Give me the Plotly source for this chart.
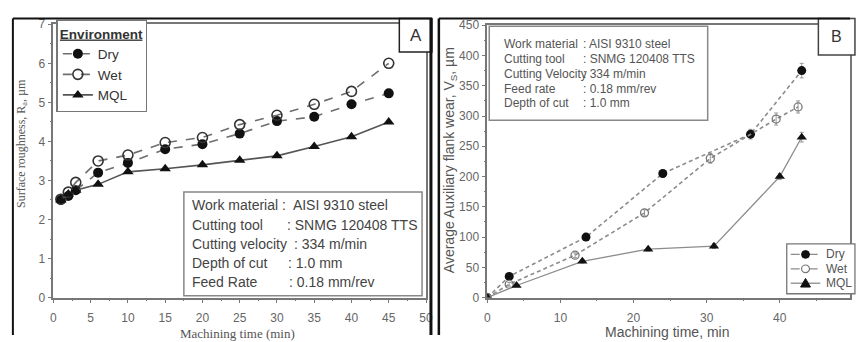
import plotly.graph_objects as go

W, H = 857, 342

# ---------------- data ----------------
time_a = [1, 2, 3, 6, 10, 15, 20, 25, 30, 35, 40, 45]
ra_dry = [2.5, 2.6, 2.75, 3.2, 3.45, 3.8, 3.93, 4.2, 4.52, 4.63, 4.95, 5.23]
ra_wet = [2.52, 2.7, 2.95, 3.5, 3.65, 3.97, 4.1, 4.43, 4.67, 4.95, 5.28, 6.0]
ra_mql = [2.5, 2.65, 2.75, 2.9, 3.22, 3.3, 3.4, 3.52, 3.63, 3.87, 4.12, 4.5]

time_b_dry = [0, 3, 13.5, 24, 36, 43]
vs_dry = [0, 35, 100, 205, 270, 375]
err_dry = [0, 3, 4, 6, 8, 12]
time_b_wet = [0, 3, 12, 21.5, 30.5, 39.5, 42.5]
vs_wet = [0, 22, 70, 140, 230, 295, 315]
err_wet = [0, 3, 4, 5, 8, 10, 10]
time_b_mql = [0, 4, 13, 22, 31, 40, 43]
vs_mql = [0, 20, 60, 80, 85, 200, 265]
err_mql = [0, 2, 3, 3, 4, 5, 8]

series_names = ["Dry", "Wet", "MQL"]

info_a_labels = ["Work material", "Cutting tool", "Cutting velocity", "Depth of cut", "Feed Rate"]
info_a_values = [":  AISI 9310 steel", ": SNMG 120408 TTS", ": 334 m/min", ": 1.0 mm", ": 0.18 mm/rev"]
info_b_labels = ["Work material", "Cutting tool", "Cutting Velocity", "Feed rate", "Depth of cut"]
info_b_values = [": AISI 9310 steel", ": SNMG 120408 TTS", ": 334 m/min", ": 0.18 mm/rev", ": 1.0 mm"]


def px(x):
    return x / W


def py(y):
    return 1 - y / H


fig = go.Figure()

# ---------------- panel A ----------------
fig.add_trace(go.Scatter(x=time_a, y=ra_dry, name=series_names[0], mode="lines+markers",
                         line=dict(color="#6e6e6e", width=1.6, dash="dash"),
                         marker=dict(symbol="circle", size=10, color="#111"),
                         xaxis="x", yaxis="y", legend="legend"))
fig.add_trace(go.Scatter(x=time_a, y=ra_wet, name=series_names[1], mode="lines+markers",
                         line=dict(color="#6e6e6e", width=1.6, dash="dash"),
                         marker=dict(symbol="circle-open", size=10, color="#333",
                                     line=dict(width=1.6)),
                         xaxis="x", yaxis="y", legend="legend"))
fig.add_trace(go.Scatter(x=time_a, y=ra_mql, name=series_names[2], mode="lines+markers",
                         line=dict(color="#555", width=1.6),
                         marker=dict(symbol="triangle-up", size=10, color="#111"),
                         xaxis="x", yaxis="y", legend="legend"))

# ---------------- panel B ----------------
B_DASH = "4px,3px"
fig.add_trace(go.Scatter(x=time_b_dry, y=vs_dry, name=series_names[0], mode="lines+markers",
                         line=dict(color="#8c8c8c", width=1.6, dash=B_DASH),
                         marker=dict(symbol="circle", size=9, color="#111"),
                         error_y=dict(type="data", array=err_dry, color="#999", thickness=1, width=2),
                         xaxis="x2", yaxis="y2", showlegend=False))
fig.add_trace(go.Scatter(x=time_b_wet, y=vs_wet, name=series_names[1], mode="lines+markers",
                         line=dict(color="#8c8c8c", width=1.6, dash=B_DASH),
                         marker=dict(symbol="circle-open", size=8, color="#777",
                                     line=dict(width=1.3)),
                         error_y=dict(type="data", array=err_wet, color="#999", thickness=1, width=2),
                         xaxis="x2", yaxis="y2", showlegend=False))
fig.add_trace(go.Scatter(x=time_b_mql, y=vs_mql, name=series_names[2], mode="lines+markers",
                         line=dict(color="#8c8c8c", width=1.3),
                         marker=dict(symbol="triangle-up", size=9, color="#111"),
                         error_y=dict(type="data", array=err_mql, color="#999", thickness=1, width=2),
                         xaxis="x2", yaxis="y2", showlegend=False))

axis_common = dict(showgrid=False, zeroline=False, showline=True, linecolor="#777",
                   linewidth=1.5, mirror=True, ticks="outside", ticklen=4,
                   tickcolor="#777", tickfont=dict(family="Arial, Liberation Sans", size=12, color="#666"))

fig.update_layout(
    width=W, height=H, margin=dict(l=0, r=0, t=0, b=0),
    paper_bgcolor="white", plot_bgcolor="white",
    xaxis=dict(domain=[px(51), px(428)], range=[0, 50], dtick=5, ticklabelstandoff=4,
               minor=dict(dtick=2.5, ticks="outside", ticklen=2, tickcolor="#777"),
               anchor="y", **axis_common),
    yaxis=dict(domain=[py(303), py(18)], range=[0, 7], dtick=1,
               minor=dict(dtick=0.5, ticks="outside", ticklen=2, tickcolor="#777"),
               anchor="x", **axis_common),
    xaxis2=dict(domain=[px(490), 1.0], range=[0, 49.6], dtick=10, ticklabelstandoff=4,
                minor=dict(dtick=5, ticks="outside", ticklen=2, tickcolor="#777"),
                anchor="y2", **axis_common),
    yaxis2=dict(domain=[py(303), py(19)], range=[0, 450], dtick=50,
                minor=dict(dtick=25, ticks="outside", ticklen=2, tickcolor="#777"),
                anchor="x2", **axis_common),
    legend=dict(x=px(54), y=py(13), xanchor="left", yanchor="top",
                bgcolor="white", bordercolor="#777", borderwidth=1.5,
                title=dict(text="<b><u>Environment</u></b>",
                           font=dict(family="Arial, Liberation Sans", size=13.5, color="#333")),
                font=dict(family="Arial, Liberation Sans", size=13.5, color="#333"),
                itemwidth=30, tracegroupgap=0),
    showlegend=True,
)

shapes = []
annotations = []

# info box A
shapes.append(dict(type="rect", xref="paper", yref="paper", x0=px(183), x1=px(424),
                   y0=py(301), y1=py(193), line=dict(color="#888", width=1.5),
                   fillcolor="white", layer="above"))
rows_a = [206, 227, 247, 267, 287]
val_x_a = [280, 285, 292, 286, 287]
for lab, val, ry, vx in zip(info_a_labels, info_a_values, rows_a, val_x_a):
    annotations.append(dict(xref="paper", yref="paper", x=px(189), y=py(ry), text=lab,
                            showarrow=False, xanchor="left", yanchor="middle",
                            font=dict(family="Arial, Liberation Sans", size=14, color="#444")))
    annotations.append(dict(xref="paper", yref="paper", x=px(vx), y=py(ry), text=val,
                            showarrow=False, xanchor="left", yanchor="middle",
                            font=dict(family="Arial, Liberation Sans", size=14, color="#444")))

# info box B
shapes.append(dict(type="rect", xref="paper", yref="paper", x0=px(492), x1=px(713),
                   y0=py(118), y1=py(20), line=dict(color="#888", width=1.5),
                   fillcolor="white", layer="above"))
rows_b = [39, 54, 70, 85, 100]
for lab, val, ry in zip(info_b_labels, info_b_values, rows_b):
    annotations.append(dict(xref="paper", yref="paper", x=px(505), y=py(ry), text=lab,
                            showarrow=False, xanchor="left", yanchor="middle",
                            font=dict(family="Arial, Liberation Sans", size=12, color="#555")))
    annotations.append(dict(xref="paper", yref="paper", x=px(585), y=py(ry), text=val,
                            showarrow=False, xanchor="left", yanchor="middle",
                            font=dict(family="Arial, Liberation Sans", size=12, color="#555")))

# legend box B (drawn as decoration)
shapes.append(dict(type="rect", xref="paper", yref="paper", x0=px(793), x1=px(862),
                   y0=py(299), y1=py(247), line=dict(color="#777", width=1.3),
                   fillcolor="white", layer="above"))
leg_rows = [258, 273, 288]
leg_dash = ["dash", "dash", "solid"]
for name, ry, dsh in zip(series_names, leg_rows, leg_dash):
    shapes.append(dict(type="line", xref="paper", yref="paper", x0=px(797), x1=px(827),
                       y0=py(ry), y1=py(ry), line=dict(color="#8c8c8c", width=1.3, dash=dsh),
                       layer="above"))
    annotations.append(dict(xref="paper", yref="paper", x=px(831), y=py(ry), text=name,
                            showarrow=False, xanchor="left", yanchor="middle",
                            font=dict(family="Arial, Liberation Sans", size=12, color="#555")))
cx = 812
r = 4
shapes.append(dict(type="circle", xref="paper", yref="paper", x0=px(cx - r), x1=px(cx + r),
                   y0=py(leg_rows[0] + r), y1=py(leg_rows[0] - r),
                   fillcolor="#111", line=dict(color="#111", width=1), layer="above"))
shapes.append(dict(type="circle", xref="paper", yref="paper", x0=px(cx - r), x1=px(cx + r),
                   y0=py(leg_rows[1] + r), y1=py(leg_rows[1] - r),
                   fillcolor="white", line=dict(color="#777", width=1.2), layer="above"))
ty = leg_rows[2]
shapes.append(dict(type="path", xref="paper", yref="paper",
                   path=f"M {px(cx - 5)},{py(ty + 4)} L {px(cx + 5)},{py(ty + 4)} L {px(cx)},{py(ty - 5)} Z",
                   fillcolor="#111", line=dict(color="#111", width=1), layer="above"))

# panel label boxes
shapes.append(dict(type="rect", xref="paper", yref="paper", x0=px(401), x1=px(434),
                   y0=py(47), y1=py(12), line=dict(color="#222", width=1.5),
                   fillcolor="white", layer="above"))
annotations.append(dict(xref="paper", yref="paper", x=px(417.5), y=py(30), text="A",
                        showarrow=False, xanchor="center", yanchor="middle",
                        font=dict(family="Arial, Liberation Sans", size=17, color="#333")))
shapes.append(dict(type="rect", xref="paper", yref="paper", x0=px(825), x1=px(862),
                   y0=py(50), y1=py(12), line=dict(color="#444", width=1.5),
                   fillcolor="white", layer="above"))
annotations.append(dict(xref="paper", yref="paper", x=px(843), y=py(31), text="B",
                        showarrow=False, xanchor="center", yanchor="middle",
                        font=dict(family="Arial, Liberation Sans", size=16, color="#333")))

# figure borders
border = dict(color="#111", width=2)
shapes += [
    dict(type="line", xref="paper", yref="paper", x0=px(10), x1=px(10), y0=0, y1=py(12), line=border),
    dict(type="line", xref="paper", yref="paper", x0=px(10), x1=px(434), y0=py(12), y1=py(12), line=border),
    dict(type="line", xref="paper", yref="paper", x0=px(433), x1=px(433), y0=0, y1=py(12),
         line=dict(color="#111", width=3)),
    dict(type="line", xref="paper", yref="paper", x0=px(441), x1=px(441), y0=0, y1=py(12),
         line=dict(color="#111", width=2.5)),
    dict(type="line", xref="paper", yref="paper", x0=px(441), x1=1, y0=py(12), y1=py(12), line=border),
]

# axis titles
annotations += [
    dict(xref="paper", yref="paper", x=px(19), y=py(142), text="Surface roughness, R<sub>a</sub>, µm",
         textangle=-90, showarrow=False, xanchor="center", yanchor="middle",
         font=dict(family="Liberation Serif, Times New Roman", size=12, color="#555")),
    dict(xref="paper", yref="paper", x=px(237), y=py(340), text="Machining time (min)",
         showarrow=False, xanchor="center", yanchor="middle",
         font=dict(family="Liberation Serif, Times New Roman", size=13, color="#555")),
    dict(xref="paper", yref="paper", x=px(453), y=py(160), text="Average Auxiliary flank wear, V<sub>S</sub>, µm",
         textangle=-90, showarrow=False, xanchor="center", yanchor="middle",
         font=dict(family="Arial, Liberation Sans", size=14, color="#555")),
    dict(xref="paper", yref="paper", x=px(672), y=py(339), text="Machining time, min",
         showarrow=False, xanchor="center", yanchor="middle",
         font=dict(family="Arial, Liberation Sans", size=14, color="#555")),
]

fig.update_layout(shapes=shapes, annotations=annotations)
fig.write_html("out.html", config={"displayModeBar": False},
               post_script="document.body.style.margin='0';document.body.style.overflow='hidden';")
